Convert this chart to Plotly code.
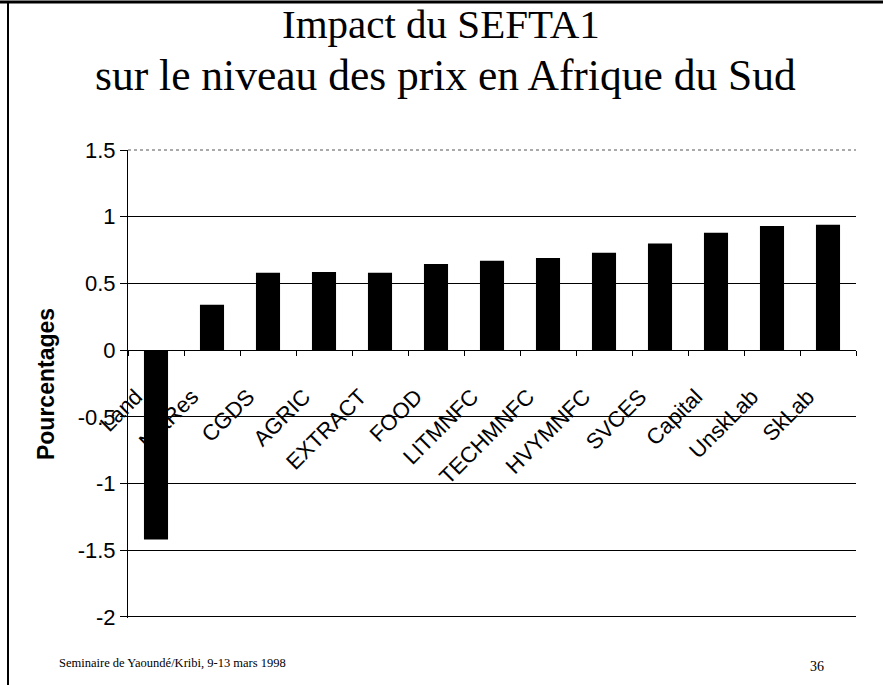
import plotly.graph_objects as go

categories = ["Land", "NatRes", "CGDS", "AGRIC", "EXTRACT", "FOOD", "LITMNFC",
              "TECHMNFC", "HVYMNFC", "SVCES", "Capital", "UnskLab", "SkLab"]
values = [-1.42, 0.34, 0.58, 0.585, 0.58, 0.645, 0.67, 0.69, 0.73, 0.80, 0.88, 0.93, 0.94]
y_ticks = [-2, -1.5, -1, -0.5, 0, 0.5, 1, 1.5]
y_ticktext = ["-2", "-1.5", "-1", "-0.5", "0", "0.5", "1", "1.5"]

W, H = 883, 685
L, R, T, B = 128, 27, 150, 67
pw, ph = W - L - R, H - T - B
ymin, ymax = y_ticks[0] - 0.008, y_ticks[-1]

def px_x(x):
    return (x - L) / pw

def px_y(y):
    return (H - B - y) / ph

fig = go.Figure(go.Bar(x=categories, y=values, marker=dict(color="black", line=dict(width=0))))

fig.update_layout(
    width=W, height=H,
    margin=dict(l=L, r=R, t=T, b=B),
    paper_bgcolor="white", plot_bgcolor="white",
    bargap=0.57,
    showlegend=False,
    font=dict(family="Liberation Sans, Arial", color="black"),
)
fig.update_xaxes(
    anchor="free", position=(0 - ymin) / (ymax - ymin),
    showline=True, linecolor="black", linewidth=1,
    ticks="outside", tickson="boundaries", ticklen=5, tickcolor="black",
    tickangle=-45, tickfont=dict(size=22, family="Liberation Sans, Arial"),
    layer="below traces", showgrid=False, zeroline=False,
    ticklabelstandoff=24, ticklabelshift=-20,
)
fig.update_yaxes(
    range=[ymin, ymax], tickvals=y_ticks, ticktext=y_ticktext,
    showgrid=True, gridcolor="black", gridwidth=1,
    zeroline=False, showline=True, linecolor="black", linewidth=1,
    ticks="outside", ticklen=7, tickcolor="black",
    tickfont=dict(size=22, family="Liberation Sans, Arial"),
    title=dict(text="<b>Pourcentages</b>", font=dict(size=23, family="Liberation Sans, Arial"), standoff=16),
)

# Top edge: faint dotted line
fig.add_shape(type="line", xref="paper", yref="paper", x0=0, x1=1, y0=1, y1=1,
              line=dict(color="#555555", width=1, dash="dot"))

# Title lines
fig.add_annotation(text="Impact du SEFTA1", xref="paper", yref="paper",
                   x=px_x(441), y=px_y(49), xanchor="center", yanchor="bottom",
                   showarrow=False, font=dict(family="Liberation Serif, Times New Roman", size=41))
fig.add_annotation(text="sur le niveau des prix en Afrique du Sud", xref="paper", yref="paper",
                   x=px_x(445), y=px_y(101), xanchor="center", yanchor="bottom",
                   showarrow=False, font=dict(family="Liberation Serif, Times New Roman", size=43.5))
# Footer
fig.add_annotation(text="Seminaire de Yaoundé/Kribi, 9-13 mars 1998", xref="paper", yref="paper",
                   x=px_x(57), y=px_y(663), xanchor="left", yanchor="middle",
                   showarrow=False, font=dict(family="Liberation Serif, Times New Roman", size=12.5))
fig.add_annotation(text="36", xref="paper", yref="paper",
                   x=px_x(817), y=px_y(666), xanchor="center", yanchor="middle",
                   showarrow=False, font=dict(family="Liberation Serif, Times New Roman", size=14))

# Slide frame: top and left lines
fig.add_shape(type="line", xref="paper", yref="paper", x0=px_x(0), x1=px_x(883), y0=px_y(2), y1=px_y(2),
              line=dict(color="black", width=3))
fig.add_shape(type="line", xref="paper", yref="paper", x0=px_x(8), x1=px_x(8), y0=px_y(2), y1=px_y(685),
              line=dict(color="black", width=2))

fig.write_html("out.html", config={"displayModeBar": False},
               post_script="document.body.style.margin='0';document.body.style.overflow='hidden';")
